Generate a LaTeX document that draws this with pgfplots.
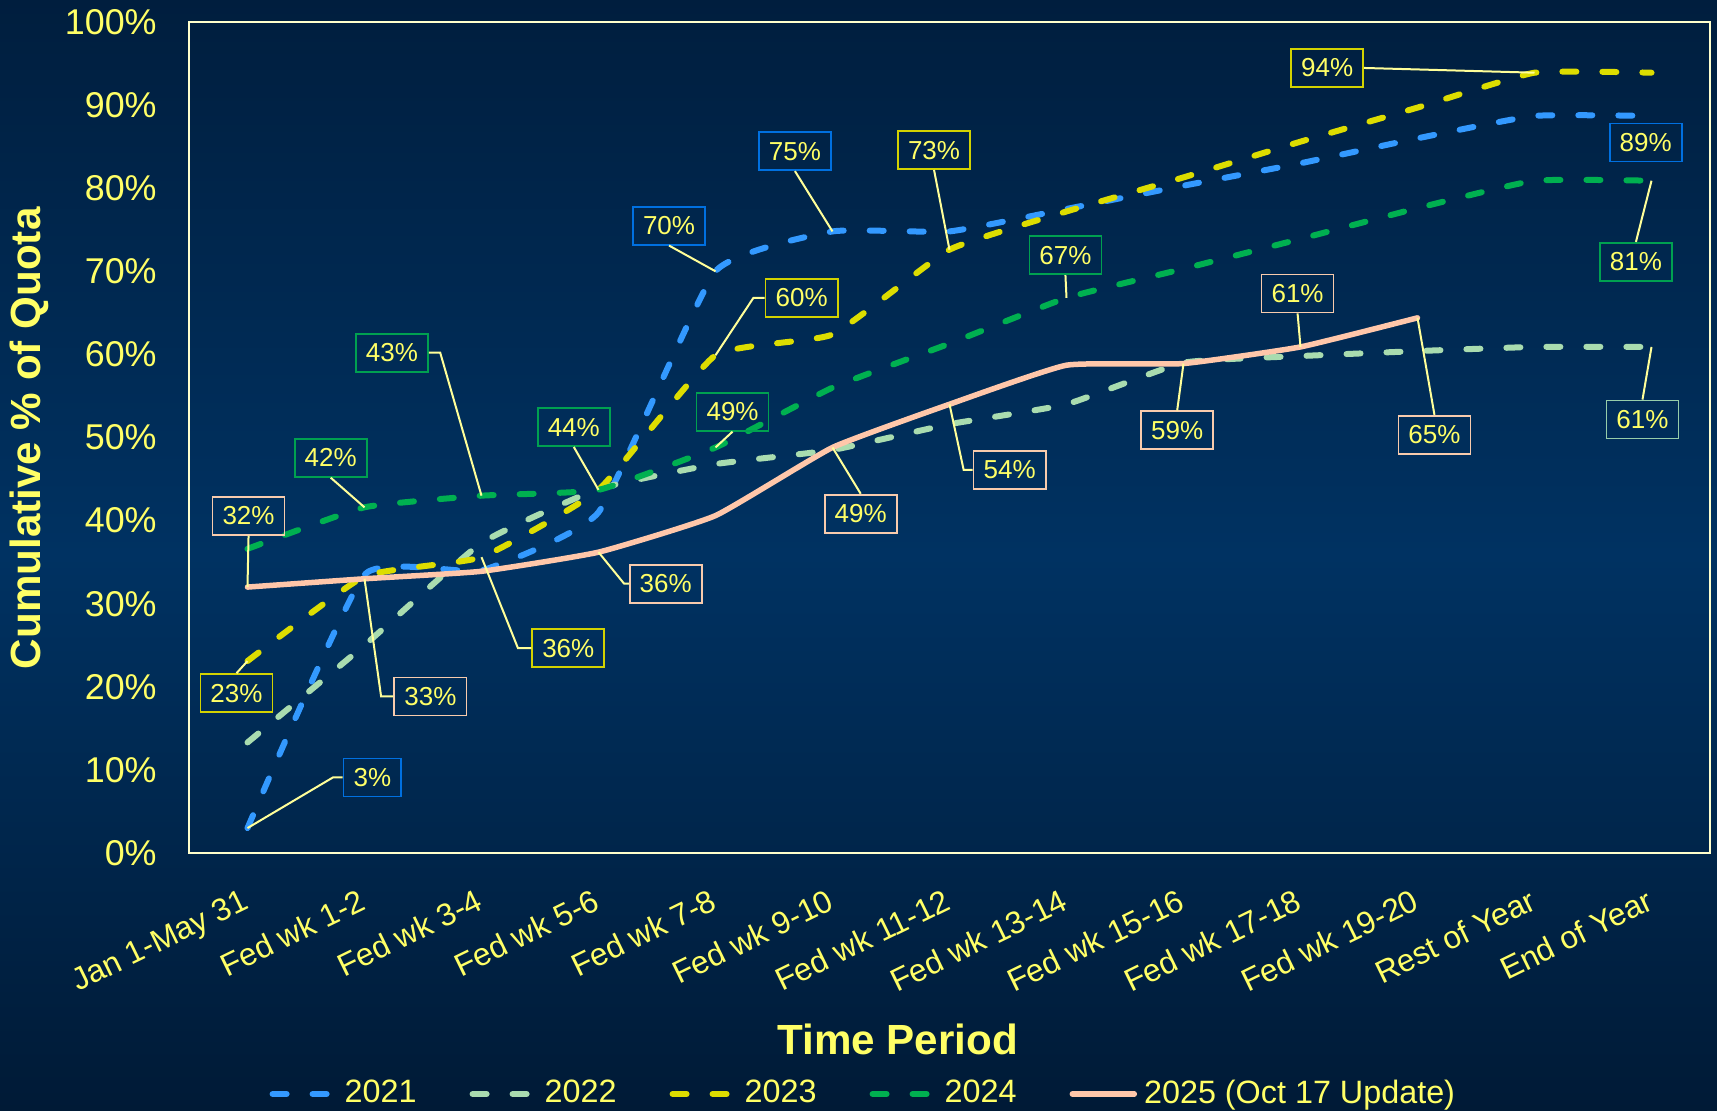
\documentclass[border=0pt]{standalone}
\usepackage{pgfplots}
\pgfplotsset{compat=1.18}
\usepackage{fontspec}
\setmainfont{Liberation Sans}
\definecolor{bgtop}{RGB}{0,30,62}
\definecolor{bgmid}{RGB}{0,50,98}
\definecolor{bgbot}{RGB}{0,26,54}
\definecolor{txt}{RGB}{255,255,102}
\definecolor{axcol}{RGB}{255,255,204}
\definecolor{lead}{RGB}{255,255,153}
\definecolor{c21}{RGB}{51,153,255}
\definecolor{c22}{RGB}{169,220,175}
\definecolor{c23}{RGB}{221,221,0}
\definecolor{c24}{RGB}{0,176,80}
\definecolor{c25}{RGB}{255,199,170}
\definecolor{b21}{RGB}{0,112,224}
\definecolor{b22}{RGB}{150,205,170}
\definecolor{b23}{RGB}{210,210,0}
\definecolor{b24}{RGB}{0,160,80}
\definecolor{b25}{RGB}{248,203,173}
\begin{document}
\begin{tikzpicture}[
  lbl/.style={draw, line width=0.5pt, text=txt, font=\fontsize{7.4}{8}\selectfont, inner xsep=1mm, inner ysep=0.4mm, minimum height=3.8mm},
  leader/.style={draw=lead, line width=0.2mm},
  dsh/.style={dash pattern=on 1.4mm off 2.6mm, line cap=round, line width=0.6mm}]
\useasboundingbox (-18.9mm,-25.8mm) rectangle (152.8mm,85.3mm);
\shade[top color=bgtop, bottom color=bgbot, middle color=bgmid] (-18.9mm,-25.8mm) rectangle (152.8mm,85.3mm);
\begin{axis}[at={(0,0)}, anchor=south west, scale only axis,
  width=152.1mm, height=83.1mm,
  xmin=-0.5, xmax=12.5, ymin=0, ymax=100,
  xtick={0,...,12},
  xticklabels={Jan 1-May 31,Fed wk 1-2,Fed wk 3-4,Fed wk 5-6,Fed wk 7-8,Fed wk 9-10,Fed wk 11-12,Fed wk 13-14,Fed wk 15-16,Fed wk 17-18,Fed wk 19-20,Rest of Year,End of Year},
  ytick={0,10,...,100},
  yticklabel={\pgfmathprintnumber{\tick}\%},
  /pgf/number format/assume math mode=true,
  axis line style={draw=axcol, line width=0.6pt},
  major tick length=0pt,
  tick label style={text=txt},
  yticklabel style={xshift=-2mm, font=\fontsize{10.2}{12}\selectfont},
  xticklabel style={rotate=26, anchor=north east, xshift=-0.9mm, yshift=-1.6mm, font=\fontsize{9}{11}\selectfont},
  xlabel={Time Period},
  xlabel style={font=\bfseries\fontsize{12}{14}\selectfont, text=txt, at={(axis description cs:0.466,-0.224)}, anchor=center},
  ylabel={Cumulative \% of Quota},
  ylabel style={font=\bfseries\fontsize{12}{14}\selectfont, text=txt, at={(axis description cs:-0.1048,0.499)}, anchor=center},
  legend style={at={(axis description cs:0.445,-0.29)}, anchor=center, draw=none, fill=none, text=txt, font=\fontsize{9.2}{11}\selectfont, legend columns=5, /tikz/every even column/.append style={column sep=4.6mm}},
  legend image code/.code={\draw[#1] (0mm,0mm) -- (6.2mm,0mm);},
  clip=false]
\addplot[c21, dsh, smooth, tension=0.25] coordinates {(0,3) (1,33.5) (2,34) (3,41) (4,70) (5,74.8) (6,74.8) (7,77.5) (8,80.3) (9,83) (10,86) (11,88.7) (12,88.7)};
\addlegendentry{2021}
\addplot[c22, dsh, smooth, tension=0.25] coordinates {(0,13.3) (1,25) (2,37.3) (3,43.8) (4,46.8) (5,48.5) (6,51.6) (7,54) (8,59) (9,59.8) (10,60.4) (11,60.9) (12,60.9)};
\addlegendentry{2022}
\addplot[c23, dsh, smooth, tension=0.25] coordinates {(0,23.1) (1,33.3) (2,35.6) (3,43.7) (4,59.9) (5,62.4) (6,72.6) (7,77.2) (8,81.3) (9,85.6) (10,89.7) (11,93.9) (12,93.9)};
\addlegendentry{2023}
\addplot[c24, dsh, smooth, tension=0.25] coordinates {(0,36.6) (1,41.6) (2,43) (3,43.7) (4,48.8) (5,56) (6,61.3) (7,66.8) (8,70.3) (9,73.9) (10,77.6) (11,80.9) (12,80.9)};
\addlegendentry{2024}
\addplot[c25, line width=0.55mm, line cap=round, smooth, tension=0.25] coordinates {(0,32) (1,33) (2,33.9) (3,36.2) (4,40.6) (5,48.8) (6,54) (7,58.7) (8,58.9) (9,60.9) (10,64.4)};
\addlegendentry{2025 (Oct 17 Update)}
% 2021 labels
\node[lbl, draw=b21] (a1) at (axis cs:1.067,9.09) {3\%};
\draw[leader] (axis cs:0,3) -- (axis cs:0.73,9.09) -- (a1.west);
\node[lbl, draw=b21] (a2) at (axis cs:3.603,75.49) {70\%};
\draw[leader] (axis cs:4,70) -- (a2.south);
\node[lbl, draw=b21] (a3) at (axis cs:4.679,84.45) {75\%};
\draw[leader] (axis cs:5,74.8) -- (a3.south);
\node[lbl, draw=b21] (a4) at (axis cs:11.951,85.5) {89\%};
% 2022
\node[lbl, draw=b22] (b1) at (axis cs:11.923,52.17) {61\%};
\draw[leader] (axis cs:12,60.9) -- (b1.north);
% 2023
\node[lbl, draw=b23] (c1) at (axis cs:-0.094,19.24) {23\%};
\draw[leader] (axis cs:0,23.1) -- (c1.north);
\node[lbl, draw=b23] (c2) at (axis cs:2.742,24.64) {36\%};
\draw[leader] (axis cs:2,35.6) -- (axis cs:2.312,24.64) -- (c2.west);
\node[lbl, draw=b23] (c3) at (axis cs:4.736,66.8) {60\%};
\draw[leader] (axis cs:4,59.9) -- (axis cs:4.324,66.8) -- (c3.west);
\node[lbl, draw=b23] (c4) at (axis cs:5.868,84.58) {73\%};
\draw[leader] (axis cs:6,72.6) -- (c4.south);
\node[lbl, draw=b23] (c5) at (axis cs:9.228,94.47) {94\%};
\draw[leader] (axis cs:11,93.9) -- (c5.east);
% 2024
\node[lbl, draw=b24] (d1) at (axis cs:0.711,47.56) {42\%};
\draw[leader] (axis cs:1,41.6) -- (d1.south);
\node[lbl, draw=b24] (d2) at (axis cs:1.235,60.21) {43\%};
\draw[leader] (axis cs:2,43) -- (axis cs:1.647,60.21) -- (d2.east);
\node[lbl, draw=b24] (d3) at (axis cs:2.789,51.25) {44\%};
\draw[leader] (axis cs:3,43.7) -- (d3.south);
\node[lbl, draw=b24] (d4) at (axis cs:4.146,53.1) {49\%};
\draw[leader] (axis cs:4,48.8) -- (d4.south);
\node[lbl, draw=b24] (d5) at (axis cs:6.991,71.94) {67\%};
\draw[leader] (axis cs:7,66.8) -- (d5.south);
\node[lbl, draw=b24] (d6) at (axis cs:11.867,71.15) {81\%};
\draw[leader] (axis cs:12,80.9) -- (d6.north);
% 2025
\node[lbl, draw=b25] (e1) at (axis cs:0.009,40.58) {32\%};
\draw[leader] (axis cs:0,32) -- (e1.south);
\node[lbl, draw=b25] (e2) at (axis cs:1.563,18.84) {33\%};
\draw[leader] (axis cs:1,33) -- (axis cs:1.142,18.84) -- (e2.west);
\node[lbl, draw=b25] (e3) at (axis cs:3.575,32.41) {36\%};
\draw[leader] (axis cs:3,36.2) -- (axis cs:3.219,32.41) -- (e3.west);
\node[lbl, draw=b25] (e4) at (axis cs:5.241,40.84) {49\%};
\draw[leader] (axis cs:5,48.8) -- (e4.north);
\node[lbl, draw=b25] (e5) at (axis cs:6.514,46.11) {54\%};
\draw[leader] (axis cs:6,54) -- (axis cs:6.121,46.11) -- (e5.west);
\node[lbl, draw=b25] (e6) at (axis cs:7.946,50.86) {59\%};
\draw[leader] (axis cs:8,58.9) -- (e6.north);
\node[lbl, draw=b25] (e7) at (axis cs:8.975,67.33) {61\%};
\draw[leader] (axis cs:9,60.9) -- (e7.south);
\node[lbl, draw=b25] (e8) at (axis cs:10.145,50.33) {65\%};
\draw[leader] (axis cs:10,64.4) -- (e8.north);
\end{axis}
\end{tikzpicture}
\end{document}
